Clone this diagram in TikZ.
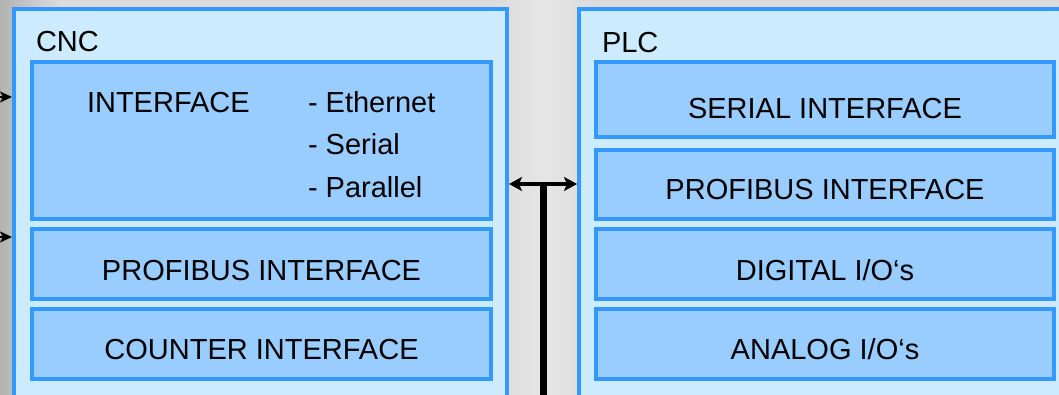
\documentclass[tikz,border=0pt]{standalone}
\usepackage{fontspec}
\setmainfont{Liberation Sans}
\usetikzlibrary{arrows.meta}
\definecolor{bgA}{HTML}{B2B2B2}
\definecolor{bgB}{HTML}{DCDCDC}
\definecolor{bgC}{HTML}{E6E6E6}
\definecolor{bdr}{HTML}{3399FF}
\definecolor{outerfill}{HTML}{CCEBFF}
\definecolor{innerfill}{HTML}{99CCFF}
\begin{document}
\begin{tikzpicture}[x=1pt,y=-1pt,
  outerbox/.style={draw=bdr, fill=outerfill, line width=4pt, inner sep=0pt, outer sep=0pt, rectangle},
  innerbox/.style={draw=bdr, fill=innerfill, line width=4pt, inner sep=0pt, outer sep=0pt, rectangle},
  lbl/.style={inner sep=0pt, outer sep=0pt, text=black, font=\fontsize{29}{34}\selectfont},
  inarrow/.style={draw=black, line width=2pt, -{Stealth[length=12pt,width=11pt,inset=3pt]}},
  busarrow/.style={draw=black, line width=4.5pt, {Stealth[length=13pt,width=14pt,inset=3pt]}-{Stealth[length=13pt,width=14pt,inset=3pt]}},
  busline/.style={draw=black, line width=6.5pt}
]
\useasboundingbox (0,0) rectangle (1059,395);
\clip (0,0) rectangle (1059,395);
% background
\fill[bgB] (0,0) rectangle (1059,395);
\shade[left color=bgA, right color=bgB] (0,0) rectangle (60,395);
\shade[left color=bgB, right color=bgC] (500,0) rectangle (545,395);
\shade[left color=bgC, right color=bgB] (545,0) rectangle (590,395);

% outer boxes
\node[outerbox, minimum width=493pt, minimum height=411pt] (cnc) at (260.5,214.5) {};
\node[outerbox, minimum width=501pt, minimum height=411pt] (plc) at (829.5,214.5) {};

% CNC inner boxes
\node[innerbox, minimum width=459pt, minimum height=156.5pt] (cncif) at (261.5,140.75) {};
\node[innerbox, minimum width=459pt, minimum height=70pt] (cncpb) at (261.5,264) {};
\node[innerbox, minimum width=459pt, minimum height=70pt] (cnccnt) at (261.5,344) {};

% PLC inner boxes
\node[innerbox, minimum width=458pt, minimum height=74.5pt] (plcser) at (825,99.75) {};
\node[innerbox, minimum width=458pt, minimum height=69pt] (plcpb) at (825,184.5) {};
\node[innerbox, minimum width=458pt, minimum height=70pt] (plcdig) at (825,264) {};
\node[innerbox, minimum width=458pt, minimum height=70pt] (plcana) at (825,344) {};

% labels
\node[lbl, anchor=base west] (tcnc) at (36,52) {CNC};
\node[lbl, anchor=base west] (tplc) at (602,53) {PLC};
\node[lbl, anchor=base west] (tif) at (87,113) {INTERFACE};
\node[lbl, anchor=base west] (teth) at (308,113) {- Ethernet};
\node[lbl, anchor=base west] (tser) at (308,155) {- Serial};
\node[lbl, anchor=base west] (tpar) at (308,198) {- Parallel};
\node[lbl, anchor=base] (tcpb) at (261.5,280) {PROFIBUS INTERFACE};
\node[lbl, anchor=base] (tcnt) at (261.5,359) {COUNTER INTERFACE};
\node[lbl, anchor=base] (tpser) at (825,119) {SERIAL INTERFACE};
\node[lbl, anchor=base] (tppb) at (825,200) {PROFIBUS INTERFACE};
\node[lbl, anchor=base] (tpdig) at (825,280) {DIGITAL I/O‘s};
\node[lbl, anchor=base] (tpana) at (825,359) {ANALOG I/O‘s};

% connectors
\coordinate (in1) at (-2,97);
\coordinate (in2) at (-2,237);
\draw[inarrow, shorten >=2pt] (in1) -- (cnc.west |- in1);
\draw[inarrow, shorten >=2pt] (in2) -- (cnc.west |- in2);
\coordinate (busy) at (543.5,184);
\coordinate (busend) at (543.5,410);
\draw[busline] (busy) -- (busend);
\draw[busarrow, shorten <=2pt, shorten >=2pt] (cnc.east |- busy) -- (plc.west |- busy);
\end{tikzpicture}
\end{document}
